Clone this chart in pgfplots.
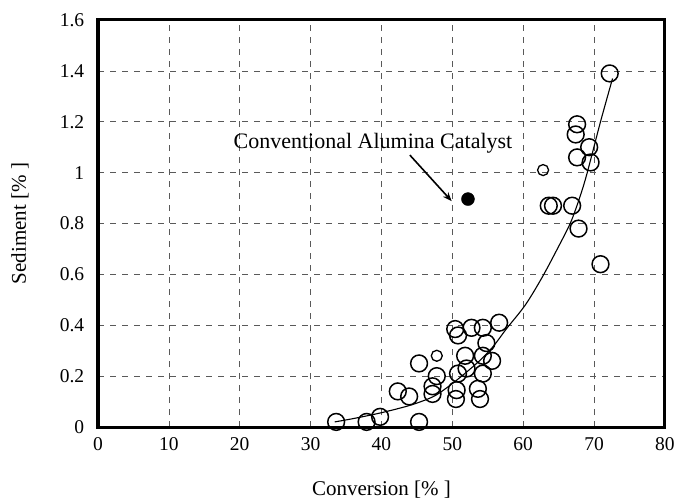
\documentclass[border=0pt]{standalone}
\usepackage{fontspec}
\setmainfont{Liberation Serif}
\usepackage{pgfplots}
\pgfplotsset{compat=1.18}
\usetikzlibrary{arrows.meta}
\begin{document}
\fontsize{20bp}{23bp}\selectfont
\begin{tikzpicture}
\path[use as bounding box] (0,0) rectangle (680bp,502bp);
\begin{axis}[
  at={(98bp,75bp)}, anchor=south west,
  scale only axis, width=567bp, height=407bp,
  xmin=0, xmax=80, ymin=0, ymax=1.6,
  xtick={0,10,...,80}, ytick={0,0.2,...,1.6},
  major tick length=0pt,
  axis line style={draw=none},
  grid=major,
  major grid style={dashed, gray!70!black, line width=0.6bp, dash pattern=on 6bp off 6bp},
  /pgf/number format/assume math mode=true,
  tick label style={font=\fontsize{19.5bp}{23bp}\selectfont},
  xticklabel style={yshift=-4bp},
  yticklabel style={xshift=-7bp},
  label style={font=\fontsize{21bp}{24bp}\selectfont},
  xlabel={Conversion [\% ]},
  ylabel={Sediment [\% ]},
  xlabel style={at={(axis description cs:0.5,-0.155)}, anchor=center},
  ylabel style={at={(axis description cs:-0.1376,0.5)}, anchor=center, rotate=0},
  clip=false,
]
% large open circles
\addplot[only marks, mark=o, mark size=8.4bp, mark options={line width=1.5bp, fill=white, draw=black}] coordinates {
(33.6,0.02) (37.9,0.02) (39.8,0.04) (45.3,0.02)
(42.3,0.14) (43.9,0.12) (45.3,0.25)
(47.8,0.20) (47.2,0.16) (47.2,0.13)
(50.4,0.385) (50.8,0.36) (52.7,0.39) (54.3,0.39) (56.6,0.41) (54.8,0.33)
(51.8,0.28) (55.6,0.26) (54.3,0.28)
(50.8,0.21) (52.0,0.23) (54.3,0.21)
(50.6,0.145) (50.5,0.11) (53.6,0.15) (53.9,0.11)
(72.2,1.39) (67.6,1.19) (67.4,1.15) (69.3,1.10) (67.6,1.06) (69.5,1.04)
(63.6,0.87) (64.2,0.87) (66.9,0.87) (67.8,0.78) (70.9,0.64)
};
% small open circles
\addplot[only marks, mark=o, mark size=5.5bp, mark options={line width=1.3bp, fill=white, draw=black}] coordinates {
(47.8,0.28) (62.8,1.01)
};
% fitted curve
\addplot[black, line width=1.1bp, smooth] coordinates {
(33.4,0.02) (36,0.033) (39.8,0.055) (44,0.085) (47.2,0.118) (49,0.15)
(51.1,0.195) (53.9,0.262) (55.8,0.318) (57.6,0.385) (60.3,0.48) (62.7,0.59)
(64.9,0.705) (66.7,0.805) (68.0,0.905) (69.0,0.997) (70.9,1.2) (72.6,1.37)
};
% conventional catalyst
\addplot[only marks, mark=*, mark size=6.5bp, mark options={fill=black, draw=black}] coordinates {
(52.2,0.896)
};
\node[font=\fontsize{22bp}{25bp}\selectfont] at (axis cs:38.8,1.116) {Conventional Alumina Catalyst};
\draw[-{Stealth[length=9bp,width=7bp]}, line width=1.6bp] (axis cs:44,1.069) -- (axis cs:49.9,0.888);
\draw[line width=3bp] (rel axis cs:0,0) rectangle (rel axis cs:1,1);
\end{axis}
\end{tikzpicture}
\end{document}
